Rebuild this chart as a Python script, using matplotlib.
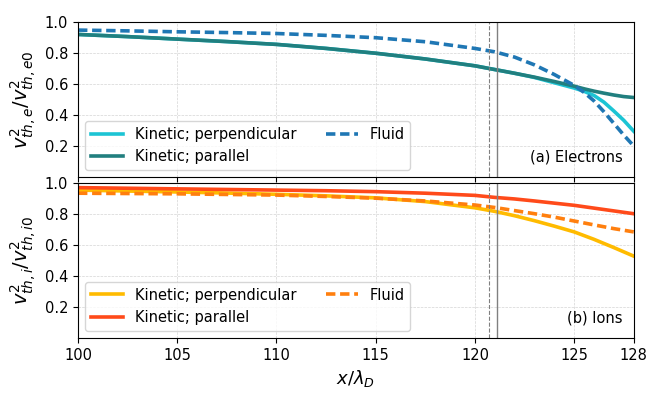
import numpy as np
import matplotlib
matplotlib.use("Agg")
import matplotlib.pyplot as plt

# electrons
x_e = [100, 102.5, 105, 107.5, 110, 112.5, 115, 117.5, 120, 121, 122, 123, 124, 125, 125.5, 126, 126.5, 127, 127.5, 128]
e_par = [0.918, 0.904, 0.888, 0.872, 0.854, 0.828, 0.797, 0.760, 0.716, 0.692, 0.668, 0.643, 0.615, 0.585, 0.568, 0.553, 0.540, 0.528, 0.518, 0.512]
e_perp = [0.918, 0.904, 0.888, 0.872, 0.854, 0.828, 0.797, 0.760, 0.716, 0.692, 0.668, 0.641, 0.607, 0.573, 0.552, 0.525, 0.482, 0.425, 0.365, 0.295]
e_fluid = [0.946, 0.941, 0.935, 0.930, 0.924, 0.912, 0.897, 0.871, 0.828, 0.806, 0.772, 0.722, 0.660, 0.590, 0.545, 0.490, 0.420, 0.345, 0.270, 0.200]

# ions
x_i = [100, 102.5, 105, 107.5, 110, 112.5, 115, 117.5, 120, 121, 122, 123, 124, 125, 126, 127, 128]
i_par = [0.968, 0.964, 0.960, 0.956, 0.952, 0.948, 0.942, 0.932, 0.918, 0.905, 0.895, 0.882, 0.868, 0.854, 0.836, 0.818, 0.800]
i_perp = [0.952, 0.946, 0.940, 0.933, 0.925, 0.915, 0.902, 0.878, 0.838, 0.815, 0.787, 0.755, 0.720, 0.683, 0.635, 0.582, 0.527]
i_fluid = [0.932, 0.930, 0.928, 0.924, 0.920, 0.911, 0.900, 0.882, 0.856, 0.840, 0.820, 0.800, 0.778, 0.753, 0.728, 0.704, 0.683]

x_dashed = 120.73
x_solid = 121.1
xticks = [100, 105, 110, 115, 120, 125, 128]
yticks = [0.2, 0.4, 0.6, 0.8, 1.0]

fs = 10.5
lw = 2.6
dash = (2.6, 1.3)

fig, (ax1, ax2) = plt.subplots(2, 1, sharex=True, figsize=(6.64, 3.99), dpi=100)
fig.subplots_adjust(left=0.1175, right=0.9544, top=0.9456, bottom=0.1529, hspace=0.036)

ax1.plot(x_e, e_perp, color='#1cc4d4', lw=lw, label='Kinetic; perpendicular')
ax1.plot(x_e, e_par, color='#217f7f', lw=lw, label='Kinetic; parallel')
ax1.plot(x_e, e_fluid, color='#1f77b4', lw=lw, dashes=dash, label='Fluid')

ax2.plot(x_i, i_perp, color='#ffbb00', lw=lw, label='Kinetic; perpendicular')
ax2.plot(x_i, i_par, color='#ff4a1a', lw=lw, label='Kinetic; parallel')
ax2.plot(x_i, i_fluid, color='#ff7f0e', lw=lw, dashes=dash, label='Fluid')

for ax, txt in [(ax1, '(a) Electrons'), (ax2, '(b) Ions')]:
    ax.axvline(x_dashed, color='gray', lw=0.8, ls='--')
    ax.axvline(x_solid, color='gray', lw=1.0)
    ax.set_xlim(100, 128)
    ax.set_ylim(0, 1.0)
    ax.set_yticks(yticks)
    ax.set_xticks(xticks)
    ax.grid(True, ls='--', lw=0.5, color='#d4d4d4')
    ax.tick_params(labelsize=fs)
    ax.legend(loc='lower left', ncol=2, fontsize=fs, handlelength=2.2)
    ax.text(0.98, 0.08, txt, transform=ax.transAxes, ha='right', va='bottom', fontsize=fs)

ax1.set_ylabel(r'$v^2_{th,e}/v^2_{th,e0}$', fontsize=14)
ax2.set_ylabel(r'$v^2_{th,i}/v^2_{th,i0}$', fontsize=14)
ax2.set_xlabel(r'$x/\lambda_D$', fontsize=13)

fig.savefig('out.png', dpi=100)
